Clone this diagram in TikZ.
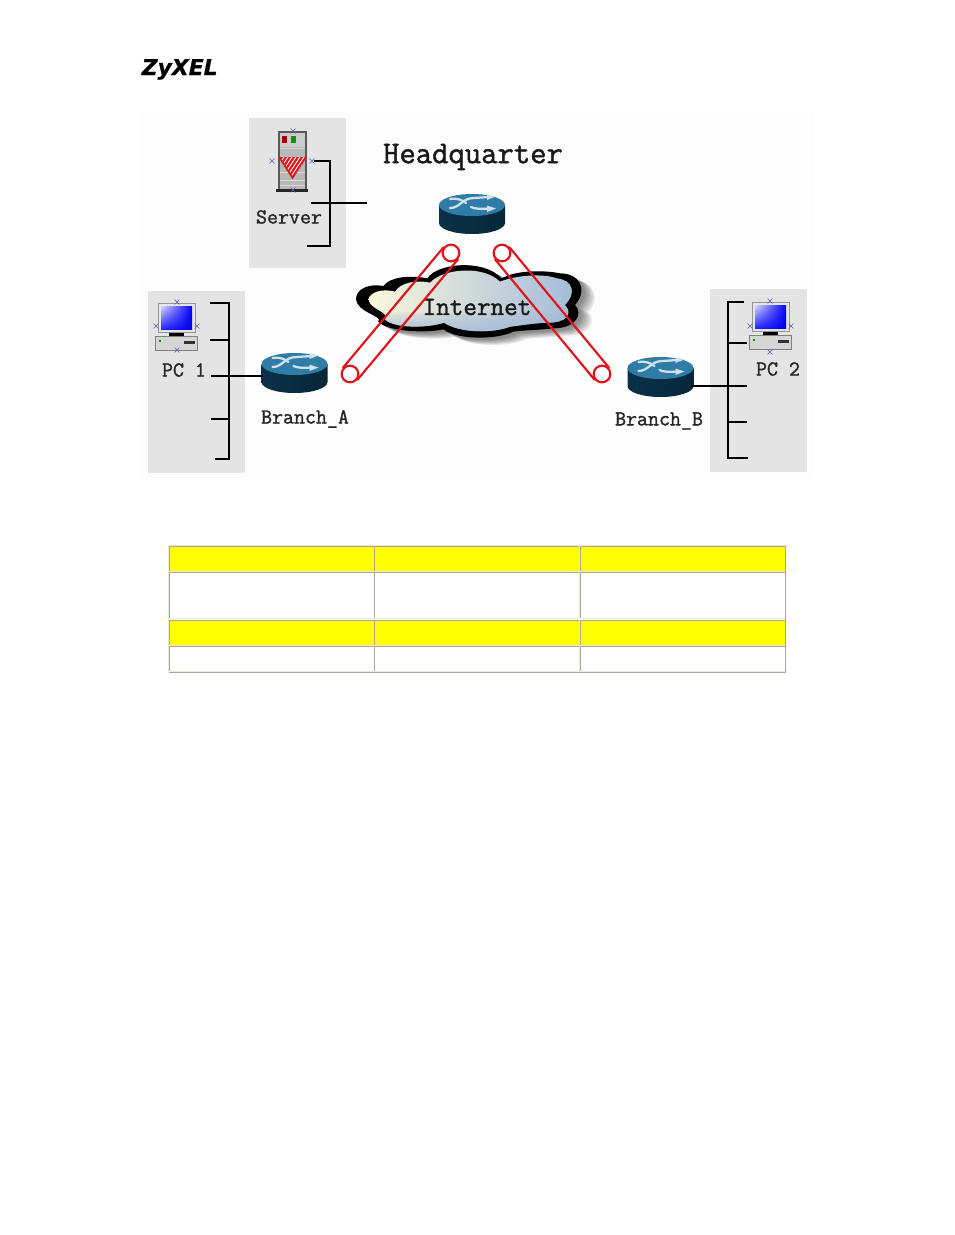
\documentclass[tikz,border=0pt]{standalone}
\usepackage{fontspec}
\usepackage{xcolor}
\usetikzlibrary{calc, shadings}
\newfontfamily\logofont[FakeBold=0.6]{DejaVu Sans}
\newfontfamily\netfont[FakeBold=1.4]{Latin Modern Mono}
\definecolor{panelgr}{HTML}{E3E4E3}
\definecolor{picbg}{HTML}{FDFDFD}
\definecolor{cellgr}{HTML}{ACA899}
\definecolor{celllt}{HTML}{ECE9D8}
\definecolor{cellyel}{HTML}{FFFF00}
\definecolor{tunred}{HTML}{E0141C}
\definecolor{rtop}{HTML}{2F7DA6}
\definecolor{rdark}{HTML}{0A3148}
\definecolor{rmid}{HTML}{14689A}
\definecolor{rarrow}{HTML}{CFE0EA}
\definecolor{xblue}{HTML}{5A5FB0}
\definecolor{cloudbl}{HTML}{A3BAD9}
\definecolor{cloudcr}{HTML}{FBF8DC}
\tikzset{
  panel/.style={fill=panelgr},
  bus/.style={line width=1.5pt, line cap=rect, line join=miter},
  tunnel/.style={draw=tunred, line width=1.6pt},
  tunend/.style={circle, draw=tunred, line width=1.6pt, minimum size=12.5pt, inner sep=0pt},
  netlabel/.style={inner sep=0pt, text=black!85, font=\netfont\fontsize{16}{17}\selectfont},
  biglabel/.style={inner sep=0pt, text=black!90, font=\netfont\fontsize{23.8}{25}\selectfont},
  midlabel/.style={inner sep=0pt, text=black!90, font=\netfont\fontsize{19.8}{21}\selectfont},
  xmark/.style={draw=xblue, line width=0.5pt},
  rswoosh/.style={draw=rarrow, line width=1.7pt, line cap=round},
}
\newcommand{\cloudouter}{(48,205) .. controls (50,175) and (90,160) .. (130,168)
  .. controls (150,140) and (210,135) .. (262,145) .. controls (290,100) and (430,85) .. (485,145)
  .. controls (530,120) and (610,120) .. (660,130) .. controls (720,130) and (745,180) .. (705,225)
  .. controls (730,250) and (710,295) .. (640,295) .. controls (600,300) and (560,300) .. (520,305)
  .. controls (470,330) and (350,330) .. (310,298) .. controls (260,310) and (140,305) .. (115,275)
  .. controls (130,255) and (50,250) .. (48,205) -- cycle}
\newcommand{\cloudinner}{(85,208) .. controls (90,185) and (130,175) .. (165,185)
  .. controls (180,160) and (225,148) .. (270,158) .. controls (310,115) and (430,105) .. (480,155)
  .. controls (530,135) and (610,130) .. (650,145) .. controls (700,150) and (710,190) .. (675,225)
  .. controls (700,250) and (680,280) .. (620,278) .. controls (580,280) and (550,285) .. (510,290)
  .. controls (460,310) and (360,310) .. (312,278) .. controls (260,295) and (160,295) .. (135,268)
  .. controls (150,245) and (90,240) .. (85,208) -- cycle}
\begin{document}
\begin{tikzpicture}[x=0.75pt, y=-0.75pt]
\useasboundingbox (0,0) rectangle (954,1235);
\fill[white] (0,0) rectangle (954,1235);
\node[inner sep=0pt, anchor=base west, font=\logofont\bfseries\itshape\fontsize{16.4}{18}\selectfont] (logo) at (141.5,75) {ZyXEL};
\fill[picbg] (140,110) rectangle (813,478);
% grey panels
\fill[panel] (249,118) rectangle (346,268);
\fill[panel] (148,291) rectangle (245,473);
\fill[panel] (710,289) rectangle (807,472);
% cloud
\begin{scope}[shift={(340,230)}, x=0.25pt, y=-0.25pt]
\foreach \dx/\dy in {40/22, 34/19, 28/16, 22/13, 16/10, 10/7}{
\fill[black, opacity=0.09, shift={(\dx,\dy)}] \cloudouter;
}
\fill[black] \cloudouter;
\shade[left color=cloudcr, middle color=white, right color=cloudbl] \cloudinner;
\begin{scope}
\clip \cloudinner;
\foreach \y in {245,252,...,294}{
\fill[cloudbl, opacity=0.13] (80,\y) rectangle (720,312);
}
\end{scope}
\end{scope}
\node[midlabel] (inet) at (477,307) {Internet};
% server
\fill[black!65] (278,131) rectangle (307,190);
\fill[black!20] (280,133) rectangle (305,189);
\fill[black!28] (280,147) rectangle (305,189);
\fill[black!85] (276,189) rectangle (308,192);
\fill[red!65!black] (282,136) rectangle (287,143);
\fill[green!60!black] (291,136) rectangle (296,143);
\foreach \y in {148,172,180,185}{
\draw[white!85!black, line width=0.5pt] (280,\y) -- (305,\y);
}
\begin{scope}
\clip (279,157) -- (306,157) -- (292.5,178) -- cycle;
\fill[tunred] (279,157) rectangle (306,178);
\foreach \a in {284,288,...,324}{
\draw[white, line width=0.7pt] (\a,157) -- (\a-14,178);
}
\end{scope}
\draw[tunred, line width=1.1pt] (279,157) -- (292.5,178) -- (306,157);
% pcs
\foreach \u/\v in {0/0, 594/-1}{
\begin{scope}[shift={(\u,\v)}]
\fill[black!42] (158,303) rectangle (196,333);
\fill[black!10] (159,304) rectangle (195,332);
\shade[upper left=blue!15, upper right=blue, lower left=blue!85, lower right=blue!90!black] (161,306) rectangle (192,329);
\fill[black] (169,333) rectangle (184,336);
\fill[black!50] (155,336) rectangle (198,351);
\fill[black!16] (156,337) rectangle (197,350);
\fill[green!60!black] (159,340) rectangle (161,342);
\fill[black!80] (184,341) rectangle (195,344);
\end{scope}
}
% little x marks
\foreach \x/\y in {293/131, 272/161, 312/161, 293/190,
  177/302, 156/326, 197/326, 177/350,
  770/301, 750/326, 791/326, 770/352}{
\draw[xmark] (\x-2.5,\y-2.5) -- (\x+2.5,\y+2.5) (\x-2.5,\y+2.5) -- (\x+2.5,\y-2.5);
}
% routers
\foreach \n/\x/\y in {rHq/472/205, rA/294.5/364, rB/660.5/368}{
\begin{scope}[shift={(\x,\y)}]
\shade[left color=rdark, middle color=rmid, right color=rdark!80!black]
  (-33,0) -- (-33,18) arc[start angle=180, end angle=0, x radius=33, y radius=11] -- (33,0) -- cycle;
\fill[rtop] (0,0) ellipse[x radius=33, y radius=11];
\draw[rswoosh] (-22,3) .. controls (-12,3) and (-10,-7) .. (2,-7) -- (17,-8);
\fill[rarrow] (15,-11) -- (24,-8.5) -- (15,-5) -- cycle;
\draw[rswoosh] (-22,-6) .. controls (-14,-7) and (-10,-5) .. (-6,-2);
\draw[rswoosh] (-1,2) .. controls (3,4) and (8,4) .. (17,3.5);
\fill[rarrow] (15,0.5) -- (24,3.5) -- (15,7) -- cycle;
\node[inner sep=0pt, minimum size=0pt] (\n) at (0,9) {};
\end{scope}
}
% buses
\coordinate (srvA) at (315,160.5);
\coordinate (srvB) at (308,246);
\coordinate (srvC) at (312,203);
\coordinate (srvD) at (366,203);
\draw[bus] (srvA) -| (330,246) -- (srvB);
\draw[bus] (srvC) -- (srvD);
\coordinate (pcA) at (211,303);
\coordinate (pcB) at (216,459);
\coordinate (pcC) at (211,340);
\coordinate (pcD) at (212,376);
\coordinate (pcE) at (212,419);
\draw[bus] (pcA) -| (229,459) -- (pcB);
\draw[bus] (pcC) -- (229,340);
\draw[bus] (pcE) -- (229,419);
\draw[bus] (pcD) -- (262,376);
\coordinate (pdA) at (743,302);
\coordinate (pdB) at (747,458);
\coordinate (pdC) at (746,343);
\coordinate (pdD) at (746,386);
\coordinate (pdE) at (746,422);
\draw[bus] (pdA) -| (728,458) -- (pdB);
\draw[bus] (728,343) -- (pdC);
\draw[bus] (728,422) -- (pdE);
\draw[bus] (692,386) -- (pdD);
% tunnels
\node[tunend] (tunAtop) at (451,253) {};
\node[tunend] (tunAbot) at (350,374) {};
\node[tunend] (tunBtop) at (502,253) {};
\node[tunend] (tunBbot) at (602,374) {};
\draw[tunnel] (tunAtop.140) -- (tunAbot.140);
\draw[tunnel] (tunAtop.-40) -- (tunAbot.-40);
\draw[tunnel] (tunBtop.40) -- (tunBbot.40);
\draw[tunnel] (tunBtop.220) -- (tunBbot.220);
% labels
\node[biglabel] (hqlabel) at (473,157) {Headquarter};
\node[netlabel] (srvlabel) at (289,217) {Server};
\node[netlabel] (pclabelA) at (184,370) {PC 1};
\node[netlabel] (pclabelB) at (778,369) {PC 2};
\node[netlabel] (brlabelA) at (305,419) {Branch\_A};
\node[netlabel] (brlabelB) at (659,421) {Branch\_B};
% table
\foreach \a/\b/\c in {547/571/cellyel, 572.5/618/white, 620.5/645/cellyel, 646.5/671/white}{
\foreach \l/\r in {170/373.5, 375/579, 581/784.5}{
\fill[\c] (\l,\a) rectangle (\r,\b);
\draw[cellgr, line width=0.75pt] (\l-.5,\b) -- (\l-.5,\a-.5) -- (\r,\a-.5);
\draw[celllt, line width=0.75pt] (\l-.5,\b+.5) -- (\r+.5,\b+.5) -- (\r+.5,\a-.5);
}
}
\draw[celllt, line width=0.75pt] (168.5,672) -- (168.5,545.5) -- (785.5,545.5);
\draw[cellgr, line width=0.75pt] (168.5,672) -- (785.5,672) -- (785.5,545.5);
\end{tikzpicture}
\end{document}
